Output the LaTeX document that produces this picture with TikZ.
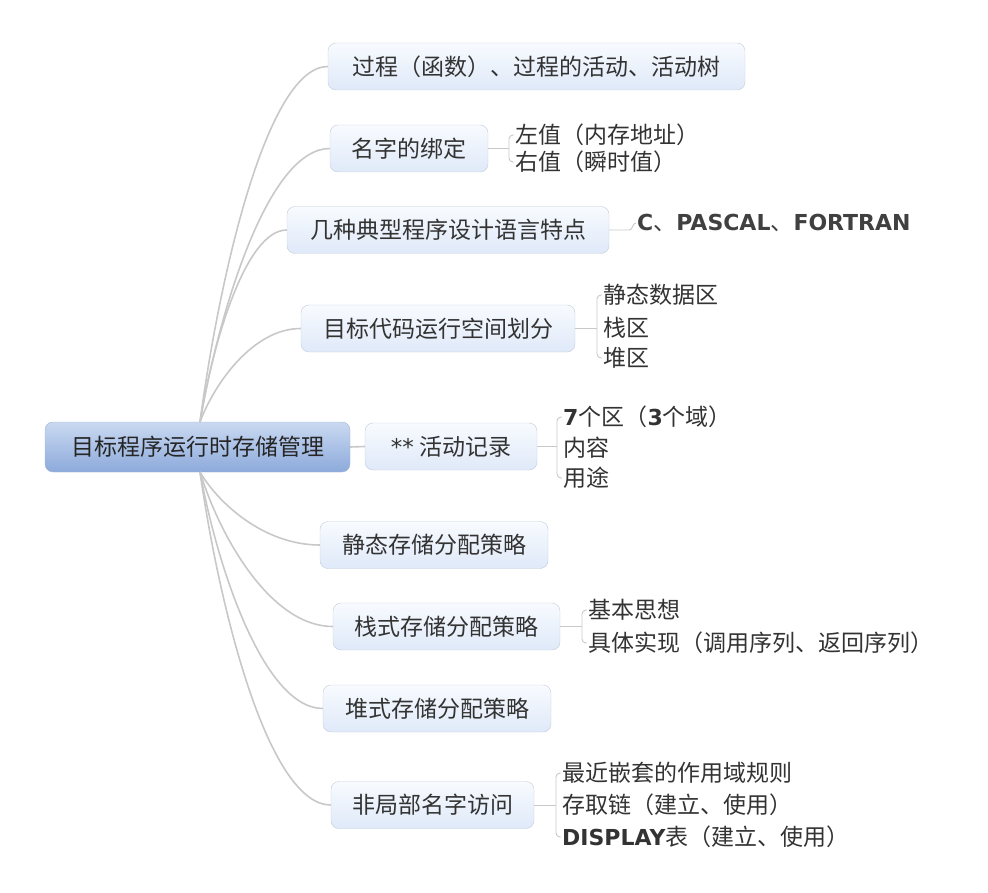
\documentclass[tikz,border=0pt]{standalone}
\usepackage{fontspec}
\setmainfont{Noto Sans CJK SC}
\newfontfamily\latf{DejaVu Sans}
\newcommand{\blat}[1]{{\latf\bfseries\fontsize{22pt}{26pt}\selectfont #1}}
\definecolor{lkgray}{HTML}{C8C8C8}
\definecolor{tpline}{HTML}{C3CCD9}
\definecolor{tptop}{HTML}{F8FBFF}
\definecolor{tpbot}{HTML}{DFE9F8}
\definecolor{rttop}{HTML}{CAD9F1}
\definecolor{rtbot}{HTML}{8CAADB}
\definecolor{rtline}{HTML}{A3B6D4}
\definecolor{txt}{HTML}{333333}
\tikzset{
  >= latex,
  rt/.style={rectangle, rounded corners=8pt, draw=rtline, top color=rttop, bottom color=rtbot,
    minimum width=305pt, minimum height=50pt, text=black!85, font=\fontsize{23pt}{27pt}\selectfont},
  tp/.style={rectangle, rounded corners=8pt, draw=tpline, top color=tptop, bottom color=tpbot,
    minimum width=#1, minimum height=47pt, text=txt, font=\fontsize{23pt}{27pt}\selectfont},
  sb/.style={anchor=west, inner sep=0pt, text=txt, font=\fontsize{23pt}{27pt}\selectfont},
  lk/.style={draw=lkgray, line width=1.6pt},
  sl/.style={draw=lkgray, line width=0.9pt}
}
\begin{document}
\begin{tikzpicture}[x=1pt, y=-1pt]
  \useasboundingbox (0,0) rectangle (988,893);
  % central topic and main branches
  \node[rt] (root) at (197.5,447) {目标程序运行时存储管理};
  \node[tp=417pt] (b1) at (536.5,66.5) {过程（函数）、过程的活动、活动树};
  \node[tp=158pt] (b2) at (409,148.5) {名字的绑定};
  \node[tp=322pt] (b3) at (448,230) {几种典型程序设计语言特点};
  \node[tp=274pt] (b4) at (438,328.5) {目标代码运行空间划分};
  \node[tp=172pt] (b5) at (451,446.5) {{\latf **} 活动记录};
  \node[tp=228pt] (b6) at (434,545) {静态存储分配策略};
  \node[tp=227pt] (b7) at (446.5,626.5) {栈式存储分配策略};
  \node[tp=228pt] (b8) at (437,708.5) {堆式存储分配策略};
  \node[tp=203pt] (b9) at (432.5,805) {非局部名字访问};
  % sub topics
  \node[sb] (c21) at (515,135) {左值（内存地址）};
  \node[sb] (c22) at (515,162) {右值（瞬时值）};
  \node[sb, text=black!75] (c31) at (637,223) {\blat{C}、\blat{PASCAL}、\blat{FORTRAN}};
  \node[sb] (c41) at (603,295) {静态数据区};
  \node[sb] (c42) at (603,328) {栈区};
  \node[sb] (c43) at (603,358) {堆区};
  \node[sb] (c51) at (563,417) {\blat{7}个区（\blat{3}个域）};
  \node[sb] (c52) at (563,448) {内容};
  \node[sb] (c53) at (563,478) {用途};
  \node[sb] (c71) at (588,610) {基本思想};
  \node[sb] (c72) at (588,643) {具体实现（调用序列、返回序列）};
  \node[sb] (c91) at (562,773) {最近嵌套的作用域规则};
  \node[sb] (c92) at (562,805) {存取链（建立、使用）};
  \node[sb] (c93) at (562,837) {\blat{DISPLAY}表（建立、使用）};
  % curves from the root
  \coordinate (rtop) at (200,422);
  \coordinate (rbot) at (200,472);
  \draw[lk] (rtop) .. controls +(20,-150) and +(-60,0) .. (b1.west);
  \draw[lk] (rtop) .. controls +(20,-115) and +(-61,0) .. (b2.west);
  \draw[lk] (rtop) .. controls +(13,-80) and +(-41,0) .. (b3.west);
  \draw[lk] (rtop) .. controls +(15,-40) and +(-47,0) .. (b4.west);
  \draw[lk] (root.east) -- (b5.west);
  \draw[lk] (rbot) .. controls +(18,31) and +(-56,0) .. (b6.west);
  \draw[lk] (rbot) .. controls +(20,65) and +(-62,0) .. (b7.west);
  \draw[lk] (rbot) .. controls +(18,99) and +(-58,0) .. (b8.west);
  \draw[lk] (rbot) .. controls +(20,140) and +(-62,0) .. (b9.west);
  % brackets to the sub topics
  \draw[sl] (b2.east) -- ([xshift=-6pt]b2.east -| c21.west);
  \draw[sl, rounded corners=4pt] ([xshift=-1pt]c21.west) -- ++(-5,0) |- ([xshift=-1pt]c22.west);
  \draw[sl] (b3.east) -- ++(20,0) to[out=0, in=180] ([xshift=-1pt]c31.west);
  \draw[sl] (b4.east) -- ([xshift=-6pt]b4.east -| c42.west);
  \draw[sl, rounded corners=4pt] ([xshift=-1pt]c41.west) -- ++(-5,0) |- ([xshift=-1pt]c43.west);
  \draw[sl] (b5.east) -- ([xshift=-6pt]b5.east -| c52.west);
  \draw[sl, rounded corners=4pt] ([xshift=-1pt]c51.west) -- ++(-5,0) |- ([xshift=-1pt]c53.west);
  \draw[sl] (b7.east) -- ([xshift=-6pt]b7.east -| c71.west);
  \draw[sl, rounded corners=4pt] ([xshift=-1pt]c71.west) -- ++(-5,0) |- ([xshift=-1pt]c72.west);
  \draw[sl] (b9.east) -- ([xshift=-6pt]b9.east -| c92.west);
  \draw[sl, rounded corners=4pt] ([xshift=-1pt]c91.west) -- ++(-5,0) |- ([xshift=-1pt]c93.west);
\end{tikzpicture}
\end{document}
